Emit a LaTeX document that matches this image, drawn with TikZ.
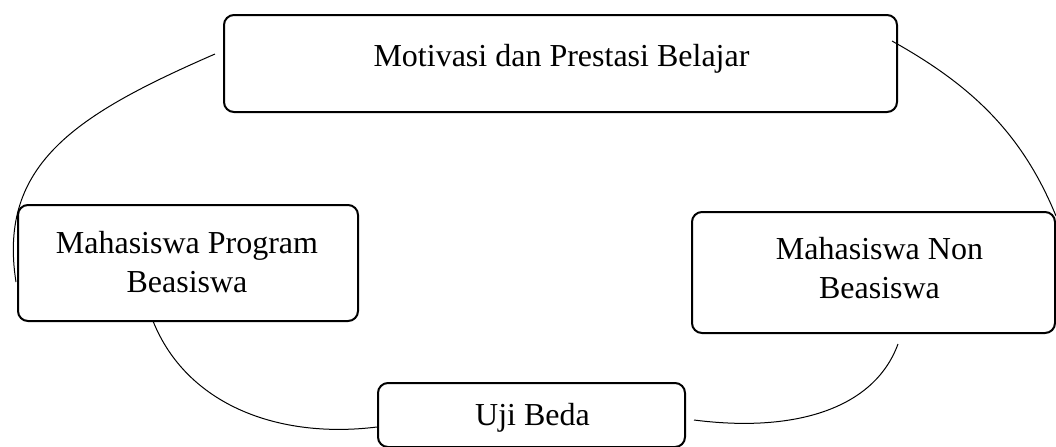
\documentclass[tikz,border=0pt]{standalone}
\usepackage{fontspec}
\setmainfont{Liberation Serif}
\usetikzlibrary{calc}

\begin{document}
\begin{tikzpicture}[x=0.5pt, y=-0.5pt]
		\useasboundingbox (0,0) rectangle (1056,446);
		\tikzset{teks/.style={font=\fontsize{16}{19.5}\selectfont, align=center, inner sep=0pt}}
		\begin{scope}[every node/.style={draw, line width=1pt, rounded corners=5pt, inner sep=0pt}]
			\node[minimum width=336.5pt, minimum height=48.5pt] (mot) at (560.5,63.5) {};
			\node[minimum width=170pt, minimum height=58pt] (prog) at (188,263) {};
			\node[minimum width=181.5pt, minimum height=60.5pt] (non) at (873.5,272.5) {};
			\node[minimum width=153.5pt, minimum height=32pt] (uji) at (531.5,415) {};
		\end{scope}
		\node[teks, anchor=base] (motteks) at (561.5,66) {Motivasi dan Prestasi Belajar};
		\node[teks] (progteks) at (187,262) {Mahasiswa Program\\Beasiswa};
		\node[teks] (nonteks) at (879.5,268) {Mahasiswa Non\\Beasiswa};
		\node[teks, anchor=base] (ujiteks) at (532.5,425) {Uji Beda};
		\begin{scope}[line width=0.5pt]
			\draw ($(mot.west)+(-8,-9.5)$) .. controls +(-137.5,60) and +(-18.7,-118.6) .. ($(prog.west)+(-1,19)$);
			\draw ($(mot.east)+(-6,-22.5)$) .. controls +(78.7,43.8) and +(-34.1,-83.3) .. ($(non.north east)+(0,5)$);
			\draw ($(prog.south)+(-35,-1)$) .. controls +(33.4,83.5) and +(-99.2,12.3) .. ($(uji.west)+(0,12)$);
			\draw ($(non.south)+(24.5,10)$) .. controls +(-24.1,65.7) and +(99.2,12.8) .. ($(uji.east)+(8,5)$);
		\end{scope}
\end{tikzpicture}
\end{document}
